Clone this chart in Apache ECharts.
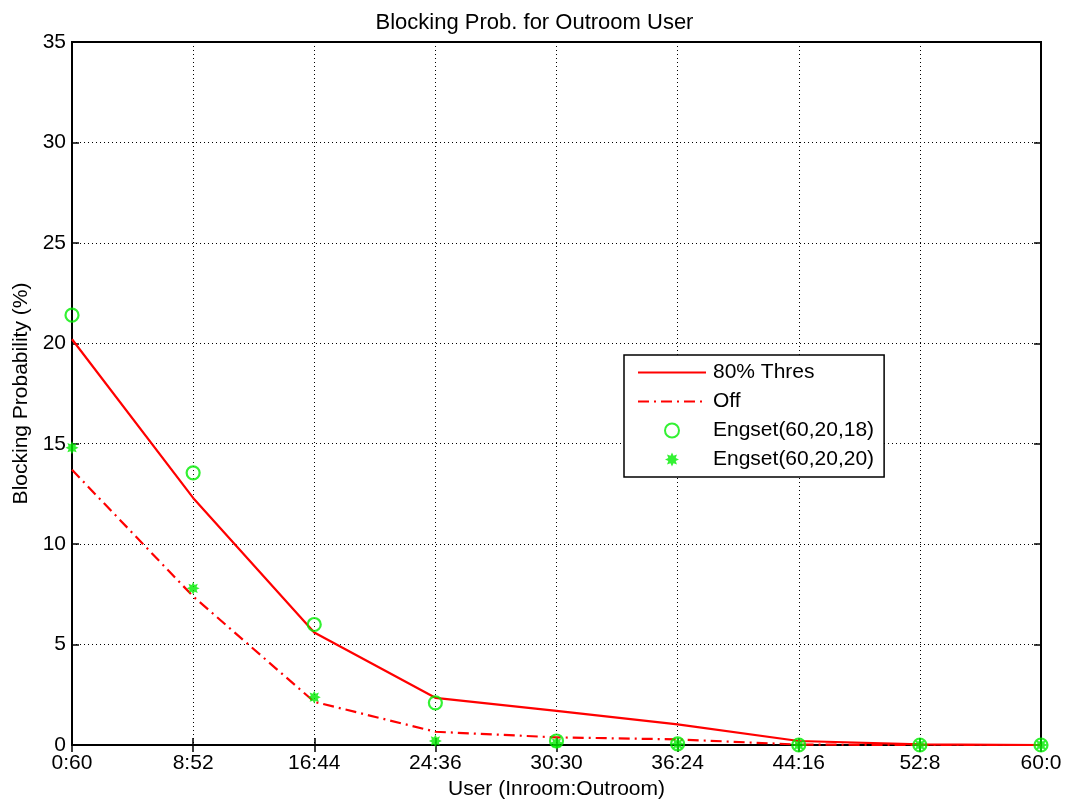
<!DOCTYPE html>
<html><head><meta charset="utf-8">
<script src="https://cdn.jsdelivr.net/npm/echarts@6/dist/echarts.min.js"></script>
<style>html,body{margin:0;padding:0;background:#fff}#c{width:1069px;height:800px}</style>
</head><body><div id="c"></div>
<script>
const categories = ['0:60','8:52','16:44','24:36','30:30','36:24','44:16','52:8','60:0'];
const thres80 = [20.2, 12.3, 5.6, 2.35, 1.7, 1.03, 0.2, 0.03, 0];
const off = [13.7, 7.4, 2.15, 0.66, 0.38, 0.28, 0.02, 0, 0];
const engset18 = [21.4, 13.55, 6.0, 2.1, 0.2, 0.06, 0, 0, 0];
const engset20 = [14.8, 7.8, 2.38, 0.2, 0.1, 0.05, 0, 0, 0];
const yTicks = [0, 5, 10, 15, 20, 25, 30, 35];

const font = 'Liberation Sans, Arial, sans-serif';
const asterisk = 'path://M0,-10 L2.2,-5.3 L7.1,-7.1 L5.3,-2.2 L10,0 L5.3,2.2 L7.1,7.1 L2.2,5.3 L0,10 L-2.2,5.3 L-7.1,7.1 L-5.3,2.2 L-10,0 L-5.3,-2.2 L-7.1,-7.1 L-2.2,-5.3 Z';

const chart = echarts.init(document.getElementById('c'), null, {renderer: 'canvas'});
chart.setOption({
  backgroundColor: '#fff',
  animation: false,
  title: {
    text: 'Blocking Prob. for Outroom User', left: 'center', top: 7,
    textStyle: {fontFamily: font, fontSize: 22, fontWeight: 'normal', color: '#000'}
  },
  grid: {left: 72, right: 28, top: 42, bottom: 55, containLabel: false, outerBoundsMode: 'none',
    show: true, borderColor: '#000', borderWidth: 2, backgroundColor: '#fff'},
  legend: {
    orient: 'vertical', left: 624, top: 355,
    backgroundColor: '#fff', borderColor: '#000', borderWidth: 1.5,
    padding: [7, 10, 7, 13], itemGap: 8, itemWidth: 68, itemHeight: 14,
    textStyle: {fontFamily: font, fontSize: 21, color: '#000', padding: [0, 0, 0, 2]},
    data: [
      {name: '80% Thres', itemStyle: {opacity: 0}},
      {name: 'Off', itemStyle: {opacity: 0}},
      {name: 'Engset(60,20,18)'},
      {name: 'Engset(60,20,20)'}
    ]
  },
  xAxis: [{
    type: 'category', data: categories, boundaryGap: false,
    name: 'User (Inroom:Outroom)', nameLocation: 'middle', nameGap: 33,
    nameTextStyle: {fontFamily: font, fontSize: 21, color: '#000'},
    axisLine: {lineStyle: {color: '#000', width: 2}},
    axisTick: {inside: true, length: 7, lineStyle: {color: '#000', width: 1.5}},
    axisLabel: {fontFamily: font, fontSize: 21, color: '#000', margin: 8},
    splitLine: {show: true, lineStyle: {color: '#000', type: [1, 3], width: 1}}
  }, {
    type: 'category', data: categories, boundaryGap: false, position: 'top',
    axisLine: {lineStyle: {color: '#000', width: 2}},
    axisTick: {inside: true, length: 7, lineStyle: {color: '#000', width: 1.5}},
    axisLabel: {show: false}, splitLine: {show: false}
  }],
  yAxis: [{
    type: 'value', min: 0, max: 35, interval: 5,
    name: 'Blocking Probability (%)', nameLocation: 'middle', nameGap: 40,
    nameTextStyle: {fontFamily: font, fontSize: 21, color: '#000'},
    axisLine: {show: true, lineStyle: {color: '#000', width: 2}},
    axisTick: {show: true, inside: true, length: 7, lineStyle: {color: '#000', width: 1.5}},
    axisLabel: {fontFamily: font, fontSize: 21, color: '#000', margin: 6,
      formatter: v => yTicks.includes(v) ? String(v) : ''},
    splitLine: {show: true, lineStyle: {color: '#000', type: [1, 3], width: 1}}
  }, {
    type: 'value', min: 0, max: 35, interval: 5, position: 'right',
    axisLine: {show: true, lineStyle: {color: '#000', width: 2}},
    axisTick: {show: true, inside: true, length: 7, lineStyle: {color: '#000', width: 1.5}},
    axisLabel: {show: false}, splitLine: {show: false}
  }],
  series: [
    {name: '80% Thres', type: 'line', data: thres80, symbol: 'none', z: 3,
      lineStyle: {color: '#ff0000', width: 2.2}, itemStyle: {color: '#ff0000'}},
    {name: 'Off', type: 'line', data: off, symbol: 'none', z: 3,
      lineStyle: {color: '#ff0000', width: 2.2, type: [11, 5, 2, 5]}, itemStyle: {color: '#ff0000'}},
    {name: 'Engset(60,20,18)', type: 'scatter', data: engset18, symbol: 'circle', symbolSize: 13, z: 4,
      itemStyle: {color: 'rgba(0,0,0,0)', borderColor: '#00ee00', borderWidth: 2.2}},
    {name: 'Engset(60,20,20)', type: 'scatter', data: engset20, symbol: asterisk, symbolSize: 13, z: 5,
      itemStyle: {color: '#00ee00'}}
  ]
});
</script></body></html>
